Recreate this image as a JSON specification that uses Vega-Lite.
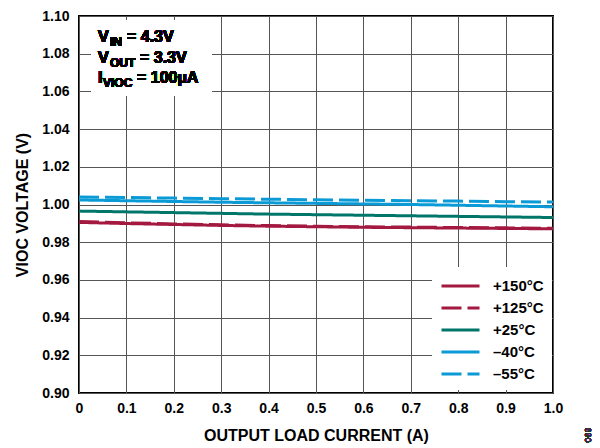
{
  "$schema": "https://vega.github.io/schema/vega-lite/v6.json",
  "width": 474,
  "height": 377,
  "autosize": {"type": "none"},
  "padding": {"left": 79, "top": 16, "right": 47, "bottom": 55},
  "background": "white",
  "config": {
    "view": {"stroke": "black", "strokeWidth": 2},
    "font": "Arial",
    "axis": {
      "labelFont": "Arial",
      "labelFontWeight": "bold",
      "labelFontSize": 14,
      "labelColor": "black",
      "labelFlush": false,
      "labelOverlap": false,
      "titleFont": "Arial",
      "titleFontWeight": "bold",
      "titleFontSize": 16,
      "titleColor": "black",
      "domain": false,
      "ticks": false,
      "grid": true,
      "gridColor": "#555555",
      "gridWidth": 1
    },
    "legend": {
      "orient": "none",
      "legendX": 353,
      "legendY": 251,
      "padding": 8,
      "fillColor": "white",
      "strokeColor": null,
      "symbolType": "M-1,0H3",
      "symbolSize": 361,
      "symbolStrokeWidth": 3,
      "labelFont": "Arial",
      "labelFontWeight": "bold",
      "labelFontSize": 15,
      "labelColor": "black",
      "labelOffset": 31,
      "rowPadding": 3
    }
  },
  "data": {
    "values": [
      {"current": 0.0, "voltage": 0.9905, "temp": "+150°C"},
      {"current": 0.1, "voltage": 0.9899, "temp": "+150°C"},
      {"current": 0.2, "voltage": 0.9894, "temp": "+150°C"},
      {"current": 0.3, "voltage": 0.9889, "temp": "+150°C"},
      {"current": 0.4, "voltage": 0.9885, "temp": "+150°C"},
      {"current": 0.5, "voltage": 0.9882, "temp": "+150°C"},
      {"current": 0.6, "voltage": 0.9879, "temp": "+150°C"},
      {"current": 0.7, "voltage": 0.9877, "temp": "+150°C"},
      {"current": 0.8, "voltage": 0.9875, "temp": "+150°C"},
      {"current": 0.9, "voltage": 0.9873, "temp": "+150°C"},
      {"current": 1.0, "voltage": 0.9871, "temp": "+150°C"},
      {"current": 0.0, "voltage": 0.9910, "temp": "+125°C"},
      {"current": 0.1, "voltage": 0.9903, "temp": "+125°C"},
      {"current": 0.2, "voltage": 0.9897, "temp": "+125°C"},
      {"current": 0.3, "voltage": 0.9892, "temp": "+125°C"},
      {"current": 0.4, "voltage": 0.9888, "temp": "+125°C"},
      {"current": 0.5, "voltage": 0.9885, "temp": "+125°C"},
      {"current": 0.6, "voltage": 0.9882, "temp": "+125°C"},
      {"current": 0.7, "voltage": 0.9880, "temp": "+125°C"},
      {"current": 0.8, "voltage": 0.9878, "temp": "+125°C"},
      {"current": 0.9, "voltage": 0.9876, "temp": "+125°C"},
      {"current": 1.0, "voltage": 0.9874, "temp": "+125°C"},
      {"current": 0.0, "voltage": 0.9965, "temp": "+25°C"},
      {"current": 0.1, "voltage": 0.9961, "temp": "+25°C"},
      {"current": 0.2, "voltage": 0.9957, "temp": "+25°C"},
      {"current": 0.3, "voltage": 0.9953, "temp": "+25°C"},
      {"current": 0.4, "voltage": 0.9949, "temp": "+25°C"},
      {"current": 0.5, "voltage": 0.9946, "temp": "+25°C"},
      {"current": 0.6, "voltage": 0.9943, "temp": "+25°C"},
      {"current": 0.7, "voltage": 0.9940, "temp": "+25°C"},
      {"current": 0.8, "voltage": 0.9937, "temp": "+25°C"},
      {"current": 0.9, "voltage": 0.9934, "temp": "+25°C"},
      {"current": 1.0, "voltage": 0.9931, "temp": "+25°C"},
      {"current": 0.0, "voltage": 1.0024, "temp": "–40°C"},
      {"current": 0.1, "voltage": 1.0020, "temp": "–40°C"},
      {"current": 0.2, "voltage": 1.0016, "temp": "–40°C"},
      {"current": 0.3, "voltage": 1.0012, "temp": "–40°C"},
      {"current": 0.4, "voltage": 1.0009, "temp": "–40°C"},
      {"current": 0.5, "voltage": 1.0006, "temp": "–40°C"},
      {"current": 0.6, "voltage": 1.0003, "temp": "–40°C"},
      {"current": 0.7, "voltage": 1.0000, "temp": "–40°C"},
      {"current": 0.8, "voltage": 0.9996, "temp": "–40°C"},
      {"current": 0.9, "voltage": 0.9992, "temp": "–40°C"},
      {"current": 1.0, "voltage": 0.9988, "temp": "–40°C"},
      {"current": 0.0, "voltage": 1.0040, "temp": "–55°C"},
      {"current": 0.1, "voltage": 1.0037, "temp": "–55°C"},
      {"current": 0.2, "voltage": 1.0034, "temp": "–55°C"},
      {"current": 0.3, "voltage": 1.0031, "temp": "–55°C"},
      {"current": 0.4, "voltage": 1.0028, "temp": "–55°C"},
      {"current": 0.5, "voltage": 1.0025, "temp": "–55°C"},
      {"current": 0.6, "voltage": 1.0022, "temp": "–55°C"},
      {"current": 0.7, "voltage": 1.0020, "temp": "–55°C"},
      {"current": 0.8, "voltage": 1.0018, "temp": "–55°C"},
      {"current": 0.9, "voltage": 1.0015, "temp": "–55°C"},
      {"current": 1.0, "voltage": 1.0013, "temp": "–55°C"}
    ]
  },
  "encoding": {
    "x": {
      "type": "quantitative",
      "scale": {"domain": [0, 1], "nice": false, "zero": false},
      "axis": {
        "title": "OUTPUT LOAD CURRENT (A)",
        "values": [0, 0.1, 0.2, 0.3, 0.4, 0.5, 0.6, 0.7, 0.8, 0.9, 1.0],
        "labelExpr": "datum.value == 0 ? '0' : format(datum.value, '.1f')",
        "labelPadding": 8,
        "titlePadding": 12
      }
    },
    "y": {
      "type": "quantitative",
      "scale": {"domain": [0.9, 1.1], "nice": false, "zero": false},
      "axis": {
        "title": "VIOC VOLTAGE (V)",
        "values": [0.9, 0.92, 0.94, 0.96, 0.98, 1.0, 1.02, 1.04, 1.06, 1.08, 1.1],
        "format": ".2f",
        "labelPadding": 10,
        "titlePadding": 11
      }
    }
  },
  "layer": [
    {
      "mark": {"type": "rect", "fill": "white"},
      "encoding": {
        "x": {"datum": 0.027},
        "x2": {"datum": 0.28},
        "y": {"datum": 1.0979},
        "y2": {"datum": 1.058}
      }
    },
    {
      "mark": {"type": "line", "strokeWidth": 3},
      "encoding": {
        "x": {"field": "current"},
        "y": {"field": "voltage"},
        "color": {
          "field": "temp",
          "type": "nominal",
          "title": null,
          "scale": {
            "domain": ["+150°C", "+125°C", "+25°C", "–40°C", "–55°C"],
            "range": ["#a3193f", "#a3193f", "#00766b", "#0a9ad6", "#0a9ad6"]
          }
        },
        "strokeDash": {
          "field": "temp",
          "type": "nominal",
          "title": null,
          "scale": {
            "domain": ["+150°C", "+125°C", "+25°C", "–40°C", "–55°C"],
            "range": [[1, 0], [20, 6], [1, 0], [1, 0], [20, 6]]
          }
        }
      }
    },
    {
      "mark": {"type": "text", "align": "left", "baseline": "alphabetic", "fontSize": 16, "fontWeight": "bold", "font": "Arial"},
      "encoding": {"x": {"datum": 0.04}, "y": {"datum": 1.0862}, "text": {"value": "V"}}
    },
    {
      "mark": {"type": "text", "align": "left", "baseline": "alphabetic", "fontSize": 12, "fontWeight": "bold", "font": "Arial", "dx": 12, "dy": 4},
      "encoding": {"x": {"datum": 0.04}, "y": {"datum": 1.0862}, "text": {"value": "IN"}}
    },
    {
      "mark": {"type": "text", "align": "left", "baseline": "alphabetic", "fontSize": 16, "fontWeight": "bold", "font": "Arial", "dx": 29},
      "encoding": {"x": {"datum": 0.04}, "y": {"datum": 1.0862}, "text": {"value": "= 4.3V"}}
    },
    {
      "mark": {"type": "text", "align": "left", "baseline": "alphabetic", "fontSize": 16, "fontWeight": "bold", "font": "Arial"},
      "encoding": {"x": {"datum": 0.04}, "y": {"datum": 1.0751}, "text": {"value": "V"}}
    },
    {
      "mark": {"type": "text", "align": "left", "baseline": "alphabetic", "fontSize": 12, "fontWeight": "bold", "font": "Arial", "dx": 12, "dy": 4},
      "encoding": {"x": {"datum": 0.04}, "y": {"datum": 1.0751}, "text": {"value": "OUT"}}
    },
    {
      "mark": {"type": "text", "align": "left", "baseline": "alphabetic", "fontSize": 16, "fontWeight": "bold", "font": "Arial", "dx": 42},
      "encoding": {"x": {"datum": 0.04}, "y": {"datum": 1.0751}, "text": {"value": "= 3.3V"}}
    },
    {
      "mark": {"type": "text", "align": "left", "baseline": "alphabetic", "fontSize": 16, "fontWeight": "bold", "font": "Arial"},
      "encoding": {"x": {"datum": 0.04}, "y": {"datum": 1.0645}, "text": {"value": "I"}}
    },
    {
      "mark": {"type": "text", "align": "left", "baseline": "alphabetic", "fontSize": 12, "fontWeight": "bold", "font": "Arial", "dx": 5, "dy": 4},
      "encoding": {"x": {"datum": 0.04}, "y": {"datum": 1.0645}, "text": {"value": "VIOC"}}
    },
    {
      "mark": {"type": "text", "align": "left", "baseline": "alphabetic", "fontSize": 16, "fontWeight": "bold", "font": "Arial", "dx": 39},
      "encoding": {"x": {"datum": 0.04}, "y": {"datum": 1.0645}, "text": {"value": "= 100µA"}}
    },
    {
      "mark": {"type": "text", "align": "center", "baseline": "middle", "fontSize": 9, "font": "Arial", "angle": 270, "color": "#333333"},
      "encoding": {"x": {"datum": 1.074}, "y": {"datum": 0.8777}, "text": {"value": "069"}}
    }
  ]
}
